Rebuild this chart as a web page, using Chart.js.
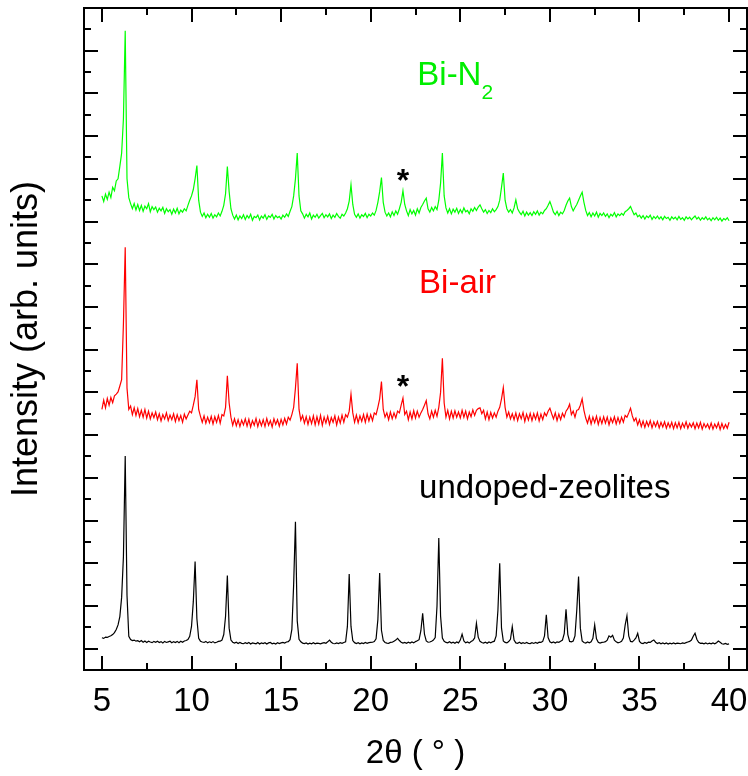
<!DOCTYPE html>
<html>
<head>
<meta charset="utf-8">
<title>XRD patterns</title>
<script src="https://cdn.jsdelivr.net/npm/chart.js@4/dist/chart.umd.min.js"></script>
<style>
  html, body { margin: 0; padding: 0; background: #fff; }
  #wrap { width: 748px; height: 776px; }
</style>
</head>
<body>
<div id="wrap"><canvas id="xrdChart" width="748" height="776"></canvas></div>
<script>
// scan grid (degrees 2-theta)
const scanStart = 5.0;
const scanStep = 0.1;

// counts per 0.1 deg, 5.0 .. 40.0
const undoped = [
  255, 240, 270, 262, 285, 300, 330, 375, 450, 555,
  750, 1200, 2150, 4510, 1250, 290, 215, 190, 200, 175,
  185, 160, 190, 150, 180, 145, 175, 155, 140, 170,
  150, 175, 145, 165, 135, 170, 145, 160, 175, 140,
  165, 145, 170, 140, 175, 150, 180, 190, 215, 290,
  520, 1100, 2040, 700, 240, 175, 155, 145, 170, 135,
  160, 140, 165, 135, 150, 170, 175, 200, 330, 760,
  1710, 480, 200, 150, 130, 150, 120, 145, 125, 115,
  140, 120, 145, 110, 135, 125, 115, 145, 110, 135,
  120, 140, 110, 135, 145, 115, 130, 110, 140, 120,
  135, 145, 130, 155, 165, 210, 450, 1500, 2970, 650,
  220, 160, 130, 120, 135, 110, 130, 115, 140, 112,
  130, 125, 112, 130, 140, 125, 160, 200, 150, 120,
  115, 135, 120, 140, 125, 145, 160, 520, 1750, 520,
  190, 140, 120, 140, 112, 135, 120, 145, 125, 140,
  145, 150, 165, 230, 680, 1770, 430, 190, 145, 130,
  125, 145, 150, 175, 200, 240, 190, 150, 130, 145,
  125, 150, 130, 155, 135, 165, 185, 210, 420, 830,
  340, 180, 150, 155, 175, 200, 260, 1000, 2590, 760,
  250, 170, 145, 135, 160, 130, 150, 125, 155, 135,
  200, 340, 180, 135, 155, 130, 165, 190, 250, 595,
  270, 170, 145, 130, 150, 125, 155, 135, 160, 175,
  300, 900, 2000, 480, 180, 145, 135, 165, 220, 515,
  200, 135, 125, 150, 120, 140, 122, 145, 125, 120,
  140, 122, 145, 125, 150, 145, 170, 300, 790, 260,
  160, 135, 155, 130, 160, 150, 175, 200, 350, 920,
  330, 170, 160, 180, 300, 900, 1690, 480, 180, 145,
  130, 155, 135, 160, 240, 555, 230, 150, 130, 145,
  150, 165, 200, 300, 270, 310, 200, 160, 135, 150,
  170, 250, 550, 770, 300, 170, 160, 200, 250, 360,
  170, 130, 120, 145, 125, 150, 145, 180, 204, 150,
  120, 140, 115, 132, 112, 135, 110, 130, 115, 132,
  112, 130, 125, 115, 135, 122, 140, 155, 170, 200,
  290, 360, 220, 150, 125, 130, 112, 132, 110, 128,
  115, 135, 112, 140, 180, 150, 115, 105, 120, 100,
  110
];

const biAir = [
  600, 820, 640, 860, 700, 880, 760, 920, 960, 1010,
  1150, 1300, 2600, 4400, 1100, 600, 680, 480, 640, 460,
  620, 430, 580, 420, 600, 400, 560, 380, 520, 410,
  540, 360, 500, 330, 480, 380, 520, 340, 470, 360,
  500, 320, 480, 340, 460, 300, 490, 380, 470, 560,
  520, 700, 900, 1294, 600, 440, 300, 450, 280, 420,
  290, 440, 260, 430, 300, 460, 280, 480, 450, 650,
  1387, 750, 420, 230, 380, 220, 360, 200, 350, 240,
  380, 210, 370, 190, 340, 230, 390, 200, 350, 220,
  360, 200, 390, 230, 340, 190, 380, 250, 360, 210,
  370, 240, 390, 260, 420, 350, 480, 650, 1100, 1684,
  600, 350, 460, 280, 430, 250, 420, 270, 450, 240,
  430, 260, 460, 230, 420, 280, 440, 250, 410, 300,
  450, 240, 420, 280, 470, 300, 480, 420, 560, 958,
  520, 300, 470, 290, 450, 320, 480, 300, 490, 330,
  480, 340, 520, 480, 650, 850, 1253, 600, 420, 520,
  360, 540, 380, 520, 400, 560, 520, 700, 864, 480,
  560, 360, 540, 380, 570, 400, 560, 420, 520, 600,
  700, 808, 500, 380, 560, 420, 580, 440, 650, 1000,
  1801, 750, 420, 580, 380, 560, 400, 570, 420, 540,
  400, 580, 420, 560, 380, 540, 430, 590, 460, 580,
  620, 637, 500, 580, 380, 540, 360, 530, 400, 520,
  420, 560, 650, 850, 1113, 650, 420, 540, 380, 500,
  360, 520, 340, 500, 380, 530, 320, 490, 350, 510,
  340, 500, 370, 520, 330, 490, 360, 520, 450, 560,
  630, 500, 380, 520, 340, 490, 360, 510, 420, 560,
  620, 724, 480, 560, 420, 580, 600, 700, 848, 580,
  400, 280, 440, 260, 420, 290, 440, 250, 410, 270,
  430, 280, 420, 240, 400, 290, 430, 260, 410, 280,
  420, 300, 460, 420, 520, 630, 450, 330, 400, 240,
  360, 200, 330, 180, 320, 210, 340, 170, 310, 200,
  320, 170, 300, 190, 310, 160, 290, 180, 300, 150,
  290, 170, 300, 150, 280, 180, 310, 160, 270, 190,
  290, 150, 280, 170, 300, 140, 270, 180, 260, 150,
  280, 140, 260, 170, 290, 130, 270, 150, 250, 160,
  300
];

const biN2 = [
  600, 470, 640, 520, 690, 560, 800, 720, 950, 1000,
  1290, 1600, 2400, 4467, 1000, 560, 420, 300, 420, 270,
  400, 260, 380, 240, 360, 300, 420, 230, 350, 280,
  340, 220, 310, 250, 330, 190, 300, 230, 280, 170,
  290, 200, 310, 180, 270, 220, 300, 250, 380, 500,
  600, 750, 1000, 1312, 500, 220, 120, 200, 90, 170,
  100, 190, 80, 160, 110, 200, 130, 240, 380, 650,
  1288, 700, 300, 150, 60, 150, 40, 130, 70, 160,
  50, 140, 80, 170, 30, 120, 90, 150, 40, 130,
  80, 160, 50, 130, 100, 170, 60, 140, 90, 120,
  60, 150, 100, 180, 120, 240, 350, 600, 1000, 1602,
  600, 250, 180, 80, 170, 110, 200, 60, 150, 100,
  170, 80, 140, 190, 90, 160, 110, 180, 70, 150,
  100, 190, 120, 80, 170, 130, 200, 300, 480, 860,
  400, 170, 100, 180, 80, 160, 120, 190, 90, 170,
  130, 200, 150, 260, 450, 700, 1031, 450, 220, 130,
  200, 110, 230, 140, 250, 170, 300, 450, 719, 400,
  250, 140, 280, 180, 260, 150, 300, 200, 330, 400,
  480, 548, 300, 220, 330, 250, 350, 280, 500, 900,
  1602, 600, 320, 200, 300, 180, 290, 220, 310, 190,
  280, 200, 320, 230, 260, 180, 300, 240, 330, 260,
  340, 391, 300, 220, 280, 190, 260, 210, 300, 230,
  280, 350, 500, 800, 1134, 500, 300, 220, 280, 200,
  320, 509, 300, 220, 160, 240, 130, 220, 150, 210,
  140, 230, 170, 250, 150, 220, 180, 260, 300, 380,
  469, 350, 220, 160, 240, 140, 220, 180, 260, 380,
  480, 548, 350, 250, 330, 400, 500, 600, 689, 450,
  260, 140, 210, 110, 200, 130, 220, 100, 190, 140,
  200, 120, 180, 90, 170, 130, 210, 110, 180, 140,
  190, 150, 230, 260, 300, 352, 250, 160, 200, 110,
  150, 80, 140, 60, 130, 90, 150, 50, 120, 70,
  130, 60, 110, 40, 120, 70, 100, 30, 110, 60,
  100, 40, 120, 50, 90, 30, 110, 60, 100, 40,
  90, 130, 60, 100, 30, 90, 50, 110, 40, 80,
  20, 90, 40, 100, 30, 80, 10, 70, 40, 90,
  20
];

// vertical shift of each pattern in the stack
const undopedOffset = 0;
const biAirOffset = 5000;
const biN2Offset = 10000;

const xTicks = [5, 10, 15, 20, 25, 30, 35, 40];

const fontFamily = "'Liberation Sans', Arial, sans-serif";
Chart.defaults.font.family = fontFamily;
Chart.defaults.color = '#000';

function toPoints(counts, offset) {
  return counts.map((c, i) => ({ x: +(scanStart + i * scanStep).toFixed(2), y: c + offset }));
}

// box around the plot with inward ticks on all four sides
const frameTicks = {
  id: 'frameTicks',
  afterDraw(chart) {
    const { ctx, chartArea: a, scales: { x, y } } = chart;
    ctx.save();
    ctx.strokeStyle = '#000';
    ctx.lineWidth = 2;
    ctx.strokeRect(a.left, a.top, a.right - a.left, a.bottom - a.top);
    ctx.beginPath();
    for (let v = 5; v <= 40; v += 2.5) {
      const px = Math.round(x.getPixelForValue(v));
      const len = v % 5 === 0 ? 14 : 7;
      ctx.moveTo(px, a.bottom); ctx.lineTo(px, a.bottom - len);
      ctx.moveTo(px, a.top); ctx.lineTo(px, a.top + len);
    }
    for (let v = 0; v <= 15000; v += 500) {
      const py = Math.round(y.getPixelForValue(v));
      const len = v % 1000 === 0 ? 14 : 7;
      ctx.moveTo(a.left, py); ctx.lineTo(a.left + len, py);
      ctx.moveTo(a.right, py); ctx.lineTo(a.right - len, py);
    }
    ctx.stroke();
    ctx.restore();
  }
};

// sample names and the asterisks over the 21.8 deg reflection
const labels = {
  id: 'labels',
  afterDatasetsDraw(chart) {
    const { ctx, scales: { x, y } } = chart;
    ctx.save();
    ctx.textBaseline = 'alphabetic';
    ctx.textAlign = 'left';

    ctx.font = '33px ' + fontFamily;
    ctx.fillStyle = '#00ee00';
    let px = x.getPixelForValue(22.6), py = y.getPixelForValue(13200);
    ctx.fillText('Bi-N', px, py);
    const w = ctx.measureText('Bi-N').width;
    ctx.font = '21px ' + fontFamily;
    ctx.fillText('2', px + w, py + 14);

    ctx.font = '33px ' + fontFamily;
    ctx.fillStyle = '#ff0000';
    ctx.fillText('Bi-air', x.getPixelForValue(22.7), y.getPixelForValue(8330));

    ctx.fillStyle = '#000';
    ctx.fillText('undoped-zeolites', x.getPixelForValue(22.7), y.getPixelForValue(3530));

    ctx.font = 'bold 32px ' + fontFamily;
    ctx.textAlign = 'center';
    ctx.fillText('*', x.getPixelForValue(21.8), y.getPixelForValue(10710));
    ctx.fillText('*', x.getPixelForValue(21.8), y.getPixelForValue(5890));
    ctx.restore();
  }
};

const ctx = document.getElementById('xrdChart').getContext('2d');

new Chart(ctx, {
  type: 'line',
  data: {
    datasets: [
      { data: toPoints(biN2, biN2Offset), borderColor: '#00ff00', borderWidth: 1.2, pointRadius: 0, tension: 0 },
      { data: toPoints(biAir, biAirOffset), borderColor: '#ff0000', borderWidth: 1.2, pointRadius: 0, tension: 0 },
      { data: toPoints(undoped, undopedOffset), borderColor: '#000000', borderWidth: 1.2, pointRadius: 0, tension: 0 }
    ]
  },
  options: {
    responsive: false,
    animation: false,
    layout: { padding: { top: 8, right: 1, left: 0, bottom: 0 } },
    plugins: {
      legend: { display: false },
      tooltip: { enabled: false }
    },
    scales: {
      x: {
        type: 'linear',
        min: 4,
        max: 41,
        afterBuildTicks: (s) => { s.ticks = xTicks.map(v => ({ value: v })); },
        afterFit: (s) => { s.height = 106; s.paddingLeft = 0; s.paddingRight = 0; },
        grid: { display: false, drawTicks: false },
        border: { display: false },
        ticks: { font: { size: 33 }, color: '#000', padding: 12, maxRotation: 0, autoSkip: false },
        title: { display: true, text: '2θ ( ° )', font: { size: 33 }, color: '#000', padding: { top: 0, bottom: 2 } }
      },
      y: {
        type: 'linear',
        min: -500,
        max: 15000,
        afterFit: (s) => { s.width = 84; s.paddingTop = 0; s.paddingBottom = 0; },
        grid: { display: false, drawTicks: false },
        border: { display: false },
        ticks: { display: false },
        title: { display: true, text: 'Intensity (arb. units)', font: { size: 36 }, color: '#000', padding: { top: 5, bottom: 0 } }
      }
    }
  },
  plugins: [frameTicks, labels]
});
</script>
</body>
</html>
